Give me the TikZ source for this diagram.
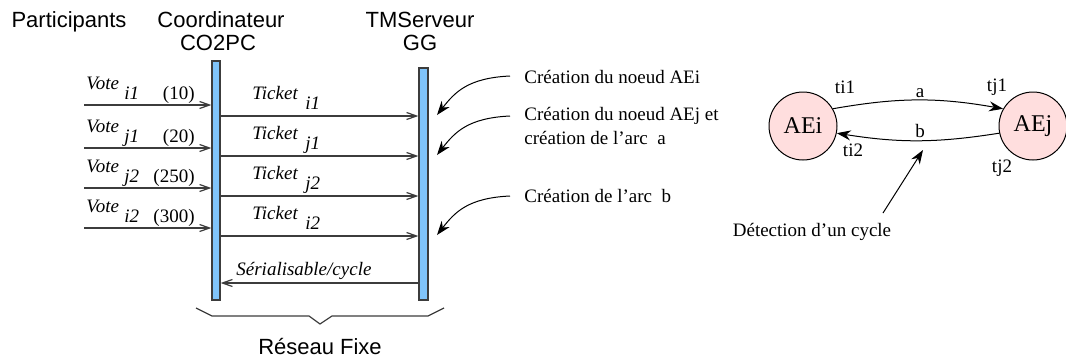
\documentclass[tikz,border=0pt]{standalone}
\usepackage{fontspec}
\setmainfont{Liberation Serif}
\newfontfamily\hel{Liberation Sans}
\usetikzlibrary{arrows.meta}
\definecolor{barblue}{RGB}{128,196,250}
\definecolor{nodepink}{RGB}{255,222,222}
\definecolor{linegray}{RGB}{60,60,60}
\begin{document}
\begin{tikzpicture}[x=0.5pt,y=0.5pt,
 head/.style={font=\hel\fontsize{11}{13}\selectfont, inner sep=0, anchor=base},
 lbl/.style={font=\fontsize{9.5}{11}\selectfont\itshape, inner sep=0, anchor=base west},
 num/.style={font=\fontsize{9.5}{11}\selectfont, inner sep=0, anchor=base east},
 msg/.style={draw=linegray, line width=0.6pt, -{Straight Barb[length=5pt,width=3.5pt]}},
 bar/.style={draw=linegray, fill=barblue, line width=0.6pt, inner sep=0},
 note/.style={font=\fontsize{9.5}{12}\selectfont, inner sep=0, anchor=north west, align=left},
 pointer/.style={-{Stealth[length=7pt,width=5pt]}, line width=0.5pt, black},
 ae/.style={circle, draw=black, fill=nodepink, minimum size=34pt, inner sep=0, line width=0.5pt, font=\fontsize{12}{14}\selectfont},
 sm/.style={font=\fontsize{9.5}{11}\selectfont, inner sep=0},
 brace/.style={draw=linegray, line width=0.6pt}
]
\useasboundingbox (0,0) rectangle (1066,-360);

% headers
\node[head] (part) at (69,-27) {Participants};
\node[head] (coord) at (221,-27) {Coordinateur};
\node[head] (co2pc) at (218,-50) {CO2PC};
\node[head] (tms) at (420,-27) {TMServeur};
\node[head] (gg) at (420,-50) {GG};

% life bars
\node[bar, minimum width=4pt, minimum height=119.5pt] (cbar) at (216,-180.5) {};
\node[bar, minimum width=4.5pt, minimum height=116pt] (tbar) at (423.5,-184) {};

% messages
\foreach \vy/\ty/\s/\n [count=\k] in {105/116/i1/(10), 148/156/j1/(20), 188/196/j2/(250), 228/236/i2/(300)} {
  \coordinate (vstart\k) at (84,-\vy);
  \draw[msg] (vstart\k) -- (cbar.west |- vstart\k);
  \node[lbl] (vote\k) at (86,-\vy+16) {Vote};
  \node[lbl] (vsub\k) at (124,-\vy+6) {\s};
  \node[num] (vnum\k) at (195,-\vy+6) {\n};
  \coordinate (tstart\k) at (220,-\ty);
  \draw[msg] (cbar.east |- tstart\k) -- (tbar.west |- tstart\k);
  \node[lbl] (tick\k) at (252,-\ty+17) {Ticket};
  \node[lbl] (tsub\k) at (305,-\ty+7) {\s};
}
\coordinate (ser) at (420,-283);
\draw[msg] (tbar.west |- ser) -- (cbar.east |- ser);
\node[lbl] (serl) at (236,-275) {Sérialisable/cycle};

% brace
\coordinate (b1) at (196,-308);
\coordinate (b2) at (212,-316);
\coordinate (b3) at (309,-316);
\coordinate (b4) at (320,-324);
\coordinate (b5) at (332,-316);
\coordinate (b6) at (428,-316);
\coordinate (b7) at (444,-308);
\draw[brace] (b1) -- (b2) -- (b3) -- (b4) -- (b5) -- (b6) -- (b7);
\node[head] (reseau) at (320,-354) {Réseau Fixe};

% annotations
\node[note, anchor=west] (n1) at (524,-77) {Création du noeud AEi};
\node[note] (n2) at (524,-107) {Création du noeud AEj et\\création de l’arc\ \ a};
\node[note, anchor=west] (n3) at (524,-196) {Création de l’arc\ \ b};
\coordinate (p1) at (510,-76);
\coordinate (q1) at (437,-115);
\coordinate (p2) at (510,-116);
\coordinate (q2) at (437,-155);
\coordinate (p3) at (510,-196);
\coordinate (q3) at (437,-235);
\draw[pointer] (p1) .. controls (468,-78) and (455,-92) .. (q1);
\draw[pointer] (p2) .. controls (468,-118) and (455,-132) .. (q2);
\draw[pointer] (p3) .. controls (468,-198) and (455,-212) .. (q3);

% graph
\node[ae] (AEi) at (803,-126) {AEi};
\node[ae] (AEj) at (1033,-126) {AEj};
\draw[pointer] (AEi.30) to[bend left=10] (AEj.150);
\draw[pointer] (AEj.192) to[bend left=9] (AEi.-12);
\node[sm] (ti1) at (845,-87) {ti1};
\node[sm] (la) at (920,-93) {a};
\node[sm] (tj1) at (997,-87) {tj1};
\node[sm] (lb) at (920,-131) {b};
\node[sm] (ti2) at (853,-150) {ti2};
\node[sm] (tj2) at (1002,-168) {tj2};
\node[note, anchor=center] (det) at (812,-232) {Détection d’un cycle};
\coordinate (dstart) at (883,-213);
\coordinate (dend) at (923,-150);
\draw[pointer] (dstart) -- (dend);
\end{tikzpicture}
\end{document}
